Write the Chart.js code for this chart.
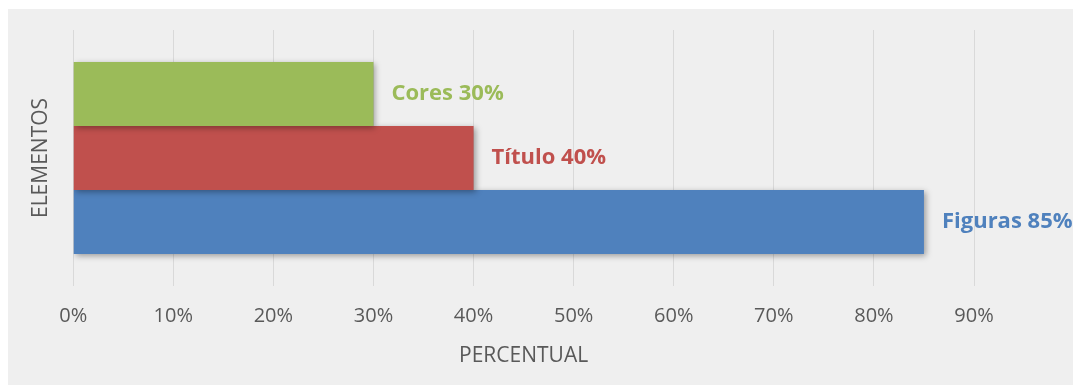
<!DOCTYPE html>
<html>
<head>
<meta charset="utf-8">
<script src="https://cdn.jsdelivr.net/npm/chart.js@4/dist/chart.umd.min.js"></script>
<style>
    body { margin: 0; background: #ffffff; }
    #box { position: absolute; left: 8px; top: 9px; width: 1065px; height: 376px; background: #efefef; }
</style>
</head>
<body>
<div id="box"><canvas id="chart" width="1065" height="376"></canvas></div>
<script>
let categories = ['ELEMENTOS'];
let seriesNames = ['Cores', 'Título', 'Figuras'];
let seriesValues = [30, 40, 85];
let seriesColors = ['#9bbb59', '#c0504d', '#4f81bd'];
let tickValues = [0, 10, 20, 30, 40, 50, 60, 70, 80, 90];

let chart = document.getElementById('chart');

let barShadow = {
    id: 'barShadow',
    beforeDatasetsDraw: (c) => {
        c.ctx.save();
        c.ctx.shadowColor = 'rgba(0, 0, 0, 0.35)';
        c.ctx.shadowBlur = 6;
        c.ctx.shadowOffsetX = 2;
        c.ctx.shadowOffsetY = 2;
    },
    afterDatasetsDraw: (c) => {
        c.ctx.restore();
    }
};

let barLabels = {
    id: 'barLabels',
    afterDatasetsDraw: (c) => {
        let ctx = c.ctx;
        ctx.save();
        ctx.font = 'bold 22px "Open Sans"';
        ctx.textBaseline = 'middle';
        ctx.textAlign = 'left';
        c.data.datasets.forEach((ds, i) => {
            let bar = c.getDatasetMeta(i).data[0];
            ctx.fillStyle = seriesColors[i];
            ctx.fillText(seriesNames[i] + ' ' + seriesValues[i] + '%', bar.x + 18, bar.y);
        });
        ctx.restore();
    }
};

let datasets = seriesNames.map((name, i) => ({
    label: name,
    data: [seriesValues[i]],
    backgroundColor: seriesColors[i],
    borderWidth: 0,
    barPercentage: 1,
    categoryPercentage: 0.75
}));

new Chart(chart, {
    type: 'bar',
    data: {
        labels: categories,
        datasets: datasets
    },
    options: {
        indexAxis: 'y',
        responsive: false,
        animation: false,
        layout: {
            padding: { top: 21, right: 99, bottom: 18, left: 20 }
        },
        plugins: {
            legend: { display: false },
            tooltip: { enabled: false }
        },
        scales: {
            x: {
                min: 0,
                max: 90,
                afterBuildTicks: (axis) => {
                    axis.ticks = tickValues.map(v => ({ value: v }));
                },
                grid: { color: '#d9d9d9', drawTicks: false, lineWidth: 1 },
                border: { display: false },
                ticks: {
                    color: '#595959',
                    font: { family: '"Open Sans"', size: 20, lineHeight: 1 },
                    padding: 20,
                    callback: (v) => v + '%'
                },
                title: {
                    display: true,
                    text: 'PERCENTUAL',
                    color: '#595959',
                    font: { family: '"Open Sans"', size: 21, lineHeight: 1 },
                    padding: { top: 0, bottom: 0 }
                }
            },
            y: {
                grid: { display: false },
                border: { display: false },
                ticks: { display: false },
                title: {
                    display: true,
                    text: 'ELEMENTOS',
                    color: '#595959',
                    font: { family: '"Open Sans"', size: 21 },
                    padding: { top: 0, bottom: 12 }
                }
            }
        }
    },
    plugins: [barShadow, barLabels]
});
</script>
</body>
</html>
